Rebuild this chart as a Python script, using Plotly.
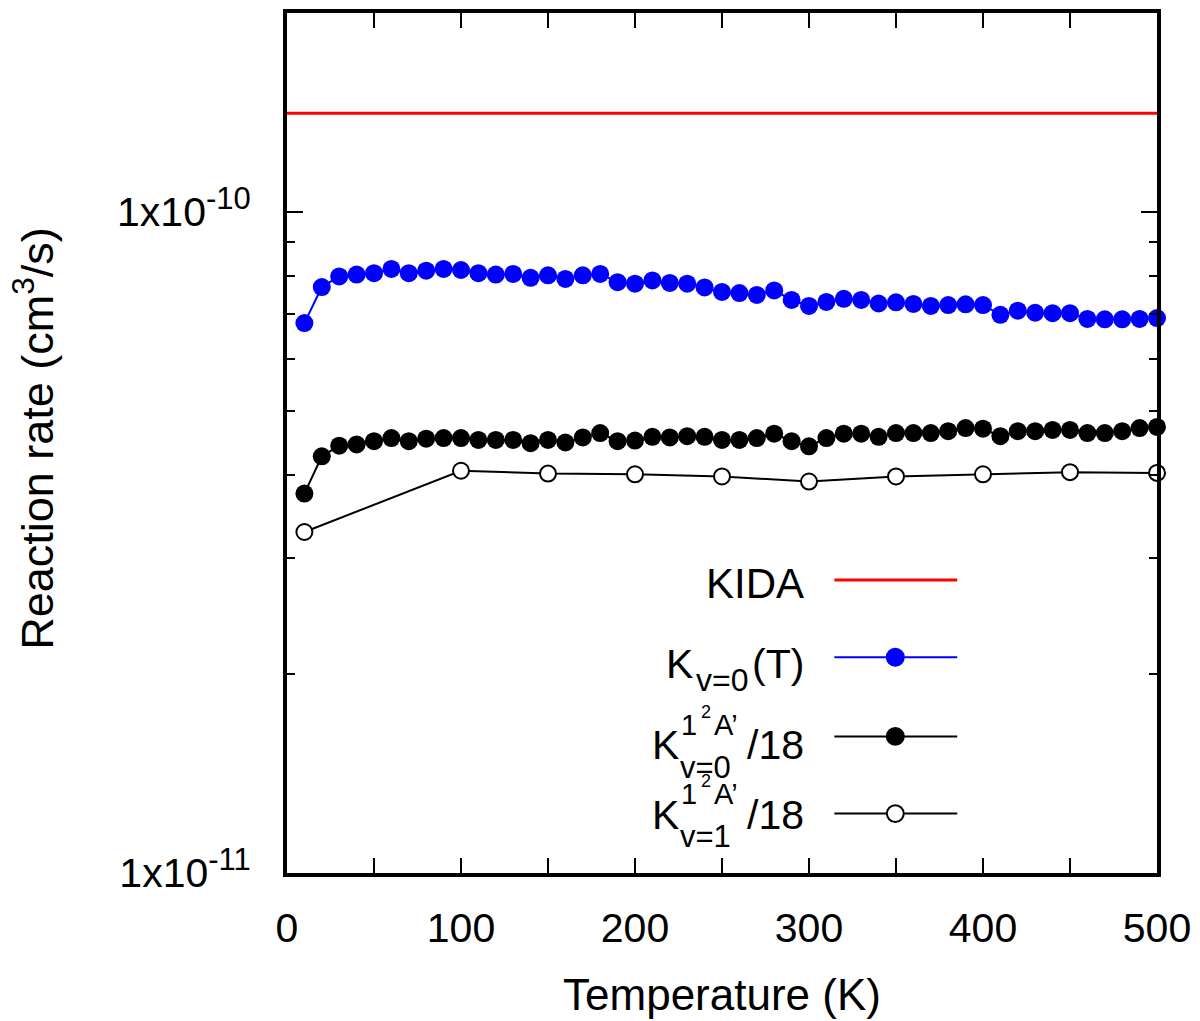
import math
import plotly.graph_objects as go

# ---------------- data ----------------
T_kida = [0, 500]
k_kida = [1.41e-10, 1.41e-10]

T_v0 = list(range(10, 501, 10))
k_v0 = [6.79, 7.70, 7.99, 8.04, 8.08, 8.20, 8.08, 8.15, 8.20, 8.17,
        8.08, 8.04, 8.06, 7.95, 8.02, 7.92, 8.02, 8.06, 7.83, 7.79,
        7.88, 7.81, 7.79, 7.69, 7.57, 7.54, 7.49, 7.61, 7.36, 7.21,
        7.31, 7.39, 7.36, 7.27, 7.30, 7.26, 7.21, 7.23, 7.25, 7.23,
        6.99, 7.09, 7.04, 7.03, 7.03, 6.89, 6.88, 6.88, 6.89, 6.91]
k_v0 = [v * 1e-11 for v in k_v0]

k_v0_A = [3.75, 4.27, 4.43, 4.45, 4.50, 4.55, 4.50, 4.54, 4.55, 4.55,
          4.52, 4.52, 4.52, 4.47, 4.52, 4.48, 4.56, 4.63, 4.50, 4.51,
          4.57, 4.56, 4.58, 4.57, 4.52, 4.52, 4.55, 4.62, 4.50, 4.42,
          4.55, 4.62, 4.62, 4.57, 4.63, 4.63, 4.63, 4.66, 4.71, 4.70,
          4.58, 4.66, 4.66, 4.68, 4.68, 4.63, 4.63, 4.66, 4.71, 4.73]
k_v0_A = [v * 1e-11 for v in k_v0_A]

T_v1 = [10, 100, 150, 200, 250, 300, 350, 400, 450, 500]
k_v1_A = [3.28, 4.06, 4.02, 4.01, 3.98, 3.91, 3.98, 4.01, 4.04, 4.03]
k_v1_A = [v * 1e-11 for v in k_v1_A]

x_ticks = list(range(0, 501, 50))
x_labels = [str(v) if v % 100 == 0 else "" for v in x_ticks]
y_major = [1e-11, 1e-10]
y_major_text = ["1x10<sup><span style='font-size:31px'>-11</span></sup>",
                "1x10<sup><span style='font-size:31px'>-10</span></sup>"]
y_minor = [k * 1e-11 for k in range(2, 10)] + [2e-10]

FONT = "Liberation Sans, Arial, Helvetica, sans-serif"

# ---------------- figure ----------------
fig = go.Figure()
fig.add_trace(go.Scatter(x=T_kida, y=k_kida, mode="lines", yaxis="y2",
                         line=dict(color="#ff0000", width=3), showlegend=False))
fig.add_trace(go.Scatter(x=T_v0, y=k_v0, mode="lines+markers",
                         line=dict(color="#0000ff", width=2),
                         marker=dict(color="#0000ff", size=18),
                         cliponaxis=False, showlegend=False))
fig.add_trace(go.Scatter(x=T_v0, y=k_v0_A, mode="lines+markers",
                         line=dict(color="black", width=2),
                         marker=dict(color="black", size=18),
                         cliponaxis=False, showlegend=False))
fig.add_trace(go.Scatter(x=T_v1, y=k_v1_A, mode="lines+markers",
                         line=dict(color="black", width=2),
                         marker=dict(color="white", size=16,
                                     line=dict(color="black", width=2)),
                         cliponaxis=False, showlegend=False))

yr = [-11, math.log10(2e-10)]

fig.update_layout(
    width=1200, height=1021,
    margin=dict(l=287, r=42, t=9, b=143),
    paper_bgcolor="white", plot_bgcolor="white",
    font=dict(family=FONT, color="black"),
    xaxis=dict(range=[0, 500], tickvals=x_ticks, ticktext=x_labels,
               ticks="inside", ticklen=15, tickwidth=2, tickcolor="black",
               showline=True, linewidth=4, linecolor="black", mirror="ticks",
               showgrid=False, zeroline=False,
               tickfont=dict(size=41, family=FONT), ticklabelstandoff=16,
               title=dict(text="Temperature (K)", font=dict(size=44, family=FONT),
                          standoff=30)),
    yaxis=dict(type="log", range=yr, tickvals=y_major, ticktext=y_major_text,
               ticks="inside", ticklen=16, tickwidth=2, tickcolor="black",
               showline=True, linewidth=4, linecolor="black", mirror="ticks",
               showgrid=False, zeroline=False,
               tickfont=dict(size=41, family=FONT), ticklabelstandoff=24),
    yaxis2=dict(type="log", range=yr, overlaying="y", side="left",
                tickvals=y_minor, ticks="inside", ticklen=8, tickwidth=2,
                tickcolor="black", showticklabels=False, showline=False,
                mirror="ticks", showgrid=False, zeroline=False),
)

# ---------------- manual gnuplot-style key ----------------
def px(xp):
    return (xp - 287) / 871.0

def py(yp):
    return (878 - yp) / 869.0

ann = []

def txt(s, x, y, size, anchor):
    ann.append(dict(text=s, x=px(x), y=py(y), xref="paper", yref="paper",
                    xanchor=anchor, yanchor="middle", showarrow=False,
                    font=dict(size=size, family=FONT, color="black")))

# y axis title
ann.append(dict(text="Reaction rate (cm<sup>3</sup>/s)", x=px(33), y=py(439),
                xref="paper", yref="paper", xanchor="center", yanchor="middle",
                textangle=-90, showarrow=False,
                font=dict(size=45, family=FONT, color="black")))

# KIDA
txt("KIDA", 807, 585, 42, "right")
# K_{v=0}(T)
txt("K", 695, 667, 41, "right")
txt("v=0", 694, 683, 32, "left")
txt("(T)", 807, 667, 41, "right")
# K^{1^2A'}_{v=0}/18 and K^{1^2A'}_{v=1}/18
for sub, yc in (("v=0", 749), ("v=1", 819)):
    txt("K", 681, yc, 41, "right")
    txt(sub, 678, yc + 22, 31, "left")
    txt("1", 679, yc - 21, 29, "left")
    txt("2", 699, yc - 34, 18, "left")
    txt("A’", 712, yc - 21, 29, "left")
    txt("/18", 807, yc, 41, "right")

shapes = []
def sample(yl, color, marker=None):
    shapes.append(dict(type="line", xref="paper", yref="paper",
                       x0=px(835), x1=px(958), y0=py(yl), y1=py(yl),
                       line=dict(color=color, width=3 if marker is None else 2)))
    if marker is not None:
        r = 8.5
        fill, lc = marker
        shapes.append(dict(type="circle", xref="paper", yref="paper",
                           x0=px(896 - r), x1=px(896 + r),
                           y0=py(yl + r), y1=py(yl - r),
                           fillcolor=fill, line=dict(color=lc, width=2)))

sample(582, "#ff0000")
sample(660, "#0000ff", ("#0000ff", "#0000ff"))
sample(740, "black", ("black", "black"))
sample(818, "black", ("white", "black"))

fig.update_layout(annotations=ann, shapes=shapes)

fig.write_html("out.html", config={"displayModeBar": False},
               post_script="document.body.style.margin='0';document.body.style.overflow='hidden';")
